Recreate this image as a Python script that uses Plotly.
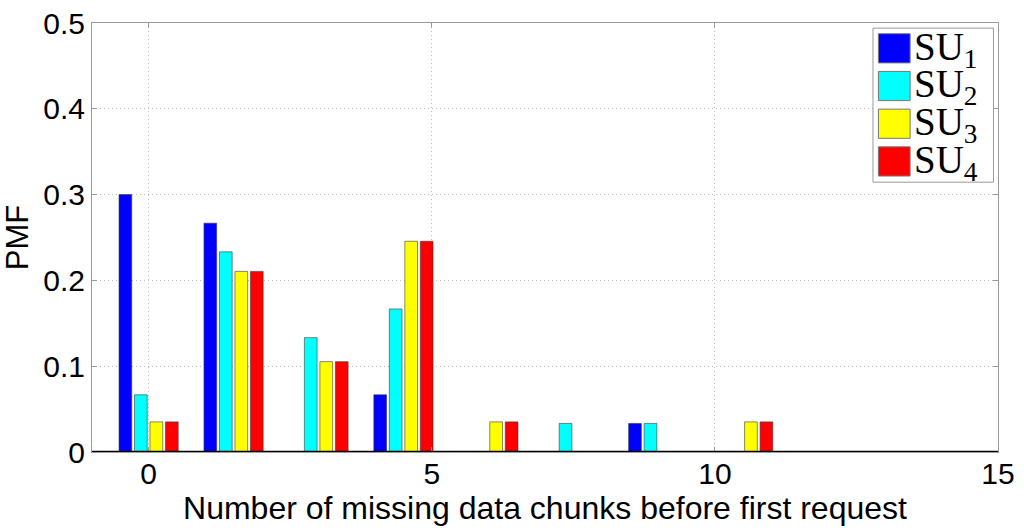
import plotly.graph_objects as go

# PMF of the number of missing chunks, one series per secondary user
x_pos = [0, 1.5, 3, 4.5, 6, 7.5, 9, 10.5]
su1 = [0.3000, 0.2667, 0.0, 0.0667, 0.0, 0.0, 0.0333, 0.0]
su2 = [0.0667, 0.2333, 0.1333, 0.1667, 0.0, 0.0333, 0.0333, 0.0]
su3 = [0.0351, 0.2105, 0.1053, 0.2456, 0.0351, 0.0, 0.0, 0.0351]
su4 = [0.0351, 0.2105, 0.1053, 0.2456, 0.0351, 0.0, 0.0, 0.0351]

series = [su1, su2, su3, su4]
names = ["SU<sub>1</sub>", "SU<sub>2</sub>", "SU<sub>3</sub>", "SU<sub>4</sub>"]
colors = ["#0000ff", "#00ffff", "#ffff00", "#ff0000"]

x_ticks = [0, 5, 10, 15]
y_ticks = [0, 0.1, 0.2, 0.3, 0.4, 0.5]
y_tick_labels = ["0", "0.1", "0.2", "0.3", "0.4", "0.5"]

fig = go.Figure()
for vals, name, col in zip(series, names, colors):
    fig.add_trace(go.Bar(
        x=x_pos, y=vals, name=name,
        marker=dict(color=col, line=dict(color="rgba(60,60,60,0.6)", width=1)),
        showlegend=False,
    ))

# MATLAB-style boxed legend with big swatches (plotly's bar swatches are tiny)
fig.add_shape(type="rect", xref="paper", yref="paper",
              x0=0.862, x1=0.995, y0=0.629, y1=0.988,
              line=dict(color="#9a9a9a", width=1), fillcolor="white", layer="above")
for i, (name, col) in enumerate(zip(names, colors)):
    top = 0.975 - i * 0.0879
    fig.add_shape(type="rect", xref="paper", yref="paper",
                  x0=0.868, x1=0.903, y0=top - 0.068, y1=top,
                  line=dict(color="#777777", width=1), fillcolor=col, layer="above")
    fig.add_annotation(xref="paper", yref="paper", x=0.905, y=top - 0.036,
                       text=name, showarrow=False, xanchor="left", yanchor="middle",
                       font=dict(family="Liberation Serif", size=39, color="black"))

# thick bar baseline
fig.add_shape(type="line", xref="paper", yref="y", x0=0, x1=1, y0=0, y1=0,
              line=dict(color="black", width=2.5), layer="above")

axis_common = dict(
    showline=True, linecolor="#9a9a9a", linewidth=1, mirror="ticks",
    ticks="inside", ticklen=5, tickcolor="#9a9a9a",
    showgrid=True, gridcolor="#bdbdbd", griddash="1px,3px", gridwidth=1,
    zeroline=False, automargin=False,
    tickfont=dict(family="Liberation Sans", size=30, color="black"),
)

fig.update_layout(
    width=1024, height=531,
    margin=dict(l=92, r=26, t=23, b=79),
    paper_bgcolor="white", plot_bgcolor="white",
    barmode="group", bargap=0.27, bargroupgap=0.18,
    font=dict(family="Liberation Sans", color="black"),
    xaxis=dict(range=[-1, 15], tickvals=x_ticks, ticklabelstandoff=-5,
               title=dict(text="Number of missing data chunks before first request",
                          font=dict(size=32), standoff=0),
               **axis_common),
    yaxis=dict(range=[0, 0.5], tickvals=y_ticks, ticktext=y_tick_labels,
               title=dict(text="PMF", font=dict(size=31), standoff=12),
               **axis_common),
)

# page body has a default 8px margin; drop it so the 1024x531 figure fits the window
fig.write_html("out.html", config={"displayModeBar": False},
               post_script="document.body.style.margin='0';")
